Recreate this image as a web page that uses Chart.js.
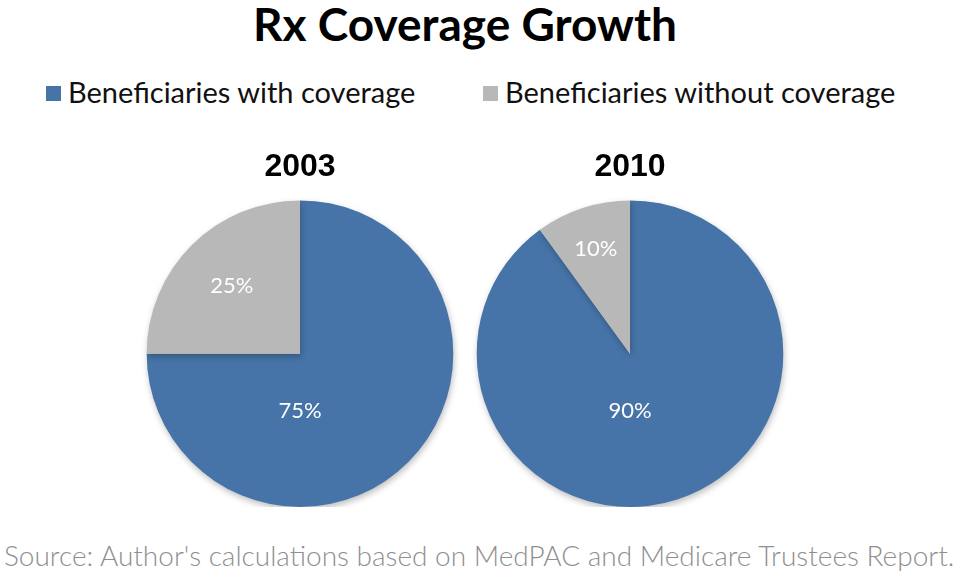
<!DOCTYPE html>
<html>
<head>
<meta charset="utf-8">
<script src="https://cdn.jsdelivr.net/npm/chart.js@4.4.1/dist/chart.umd.min.js"></script>
<style>
  body { margin: 0; background: #fff; width: 960px; height: 580px; position: relative; overflow: hidden; font-family: Lato, sans-serif; }
  #title { position: absolute; top: -2px; left: 0; width: 930px; text-align: center; font: bold 46px Lato, sans-serif; line-height: 52px; color: #000; }
  #legend { position: absolute; top: 75px; left: 46px; font: 29px Lato, sans-serif; line-height: 34px; color: #111; white-space: nowrap; }
  #legend span.item { position: absolute; top: 0; }
  #legend i { display: inline-block; width: 15px; height: 15px; margin-right: 7px; vertical-align: 2px; }
  .pie { position: absolute; top: 148px; width: 320px; height: 359px; }
  #source { position: absolute; top: 538px; left: 4px; font: 300 28px Lato, sans-serif; color: #8f8f8f; white-space: nowrap; }
</style>
</head>
<body>
<div id="title">Rx Coverage Growth</div>
<div id="legend"></div>
<div class="pie" style="left:140px"><canvas id="pie2003"></canvas></div>
<div class="pie" style="left:470px"><canvas id="pie2010"></canvas></div>
<div id="source">Source: Author's calculations based on MedPAC and Medicare Trustees Report.</div>
<script>
const categories = ['Beneficiaries with coverage', 'Beneficiaries without coverage'];
const years = ['2003', '2010'];
const values2003 = [75, 25];
const values2010 = [90, 10];
const colors = ['#4674a8', '#b8b8b8'];

// legend
const legend = document.getElementById('legend');
const legendLeft = [0, 437];
categories.forEach((c, i) => {
    const s = document.createElement('span');
    s.className = 'item';
    s.style.left = legendLeft[i] + 'px';
    s.innerHTML = '<i style="background:' + colors[i] + '"></i>' + c;
    legend.appendChild(s);
});

// soft shadow under the pie
const shadowPlugin = {
    id: 'pieShadow',
    beforeDatasetDraw(chart) {
        const ctx = chart.ctx;
        ctx.save();
        ctx.shadowColor = 'rgba(0,0,0,0.25)';
        ctx.shadowBlur = 6;
        ctx.shadowOffsetX = 1;
        ctx.shadowOffsetY = 3;
    },
    afterDatasetDraw(chart) {
        chart.ctx.restore();
    }
};

// percent labels inside slices
const labelPlugin = {
    id: 'sliceLabels',
    afterDatasetsDraw(chart) {
        const ctx = chart.ctx;
        const meta = chart.getDatasetMeta(0);
        const data = chart.data.datasets[0].data;
        ctx.save();
        ctx.fillStyle = '#ffffff';
        ctx.font = '22px Lato, sans-serif';
        ctx.textAlign = 'center';
        ctx.textBaseline = 'middle';
        meta.data.forEach((arc, i) => {
            const p = arc.getProps(['x', 'y', 'startAngle', 'endAngle', 'outerRadius']);
            let ang, rr;
            if (p.endAngle - p.startAngle > Math.PI) {
                ang = Math.PI / 2;
                rr = 0.37;
            } else {
                ang = (p.startAngle + p.endAngle) / 2;
                rr = data[i] < 15 ? 0.72 : 0.63;
            }
            ctx.fillText(data[i] + '%', p.x + Math.cos(ang) * p.outerRadius * rr, p.y + Math.sin(ang) * p.outerRadius * rr);
        });
        ctx.restore();
    }
};

function makePie(id, year, values) {
    new Chart(document.getElementById(id), {
        type: 'pie',
        data: {
            labels: categories,
            datasets: [{
                data: values,
                backgroundColor: colors,
                borderWidth: 0
            }]
        },
        options: {
            responsive: true,
            maintainAspectRatio: false,
            animation: false,
            layout: { padding: 0 },
            plugins: {
                legend: { display: false },
                tooltip: { enabled: false },
                title: {
                    display: true,
                    text: year,
                    color: '#000',
                    font: { family: 'Liberation Sans', size: 32, weight: 'bold', lineHeight: 1.2 },
                    padding: { top: 0, bottom: 14 }
                }
            }
        },
        plugins: [shadowPlugin, labelPlugin]
    });
}

makePie('pie2003', years[0], values2003);
makePie('pie2010', years[1], values2010);
</script>
</body>
</html>
